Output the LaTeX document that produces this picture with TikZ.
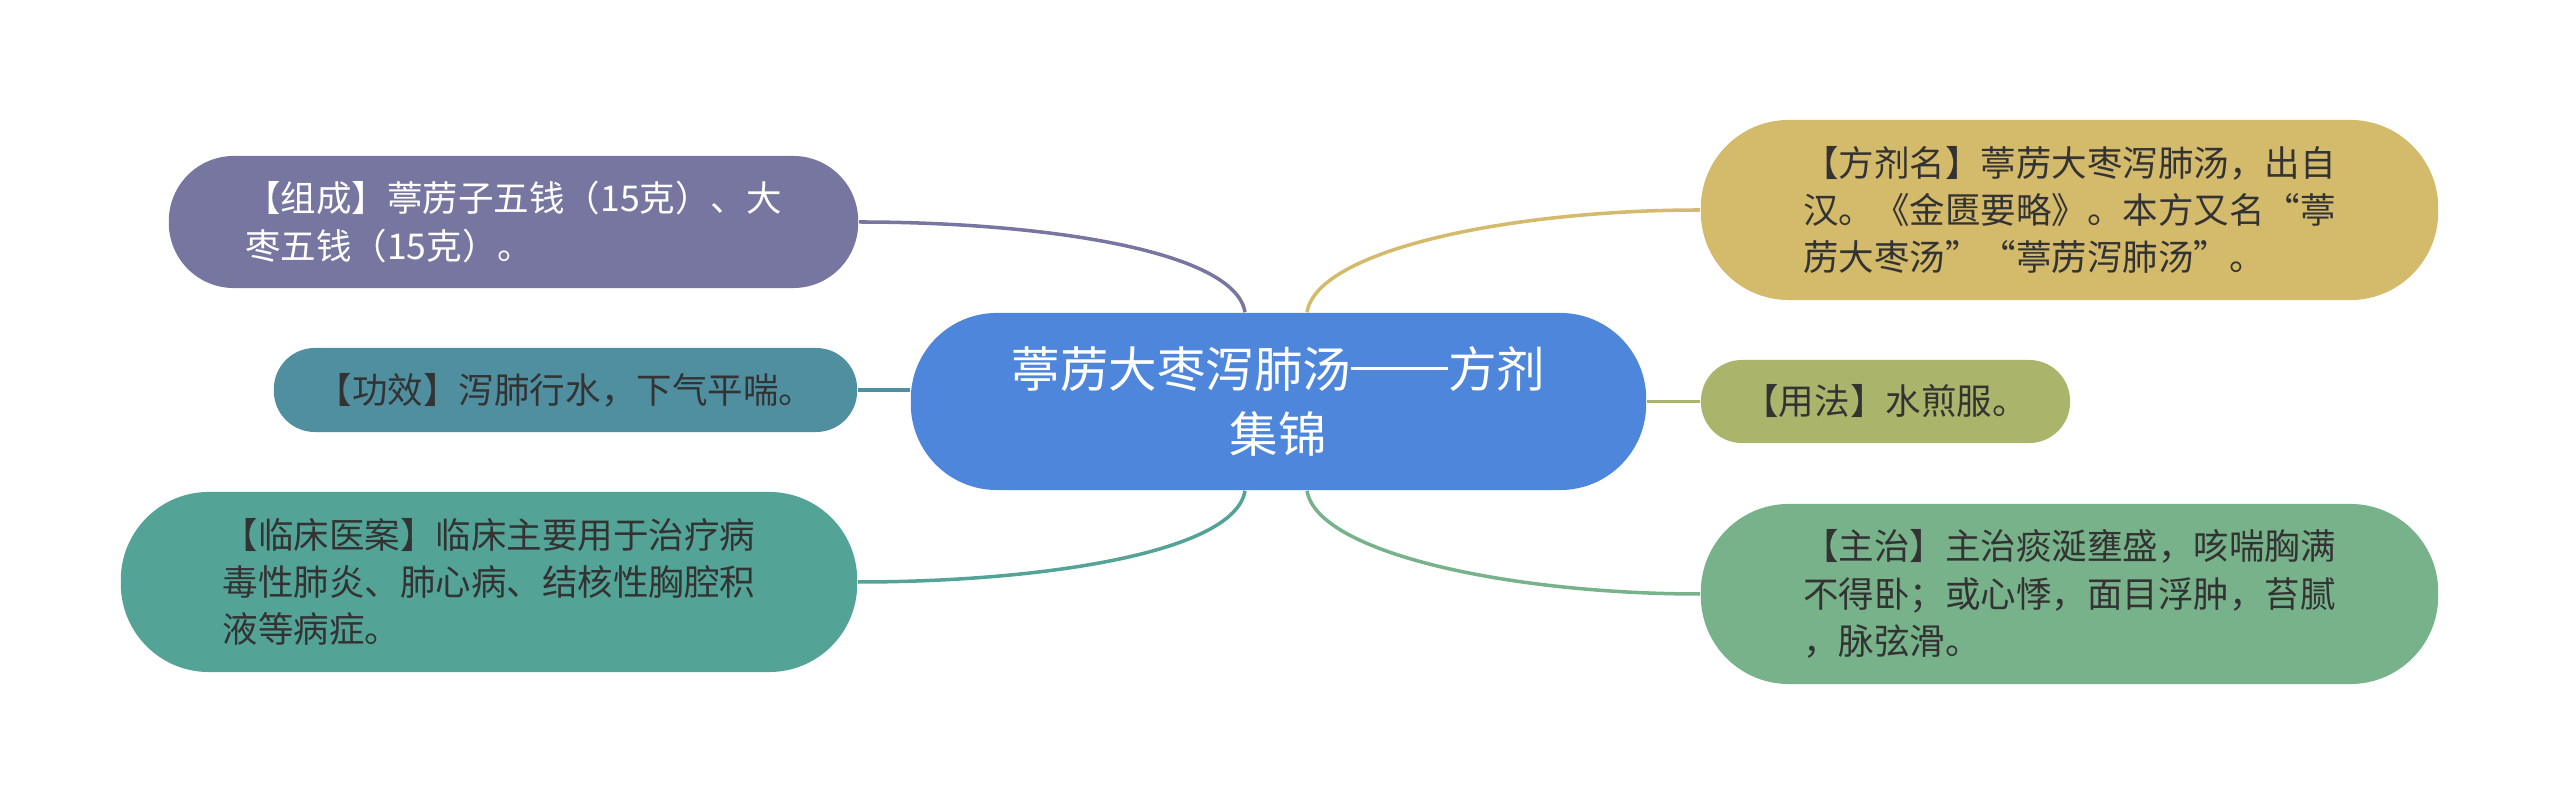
\documentclass[tikz,border=0pt]{standalone}
\usepackage{fontspec}
\setmainfont{Noto Sans CJK SC}

\begin{document}
\begin{tikzpicture}[x=0.01cm,y=-0.01cm]
    \definecolor{fj_hub}{RGB}{78,134,219}
    \definecolor{fj_zucheng}{RGB}{119,118,160}
    \definecolor{fj_gongxiao}{RGB}{79,143,160}
    \definecolor{fj_linchuang}{RGB}{83,163,151}
    \definecolor{fj_fangji}{RGB}{212,186,107}
    \definecolor{fj_yongfa}{RGB}{170,181,107}
    \definecolor{fj_zhuzhi}{RGB}{120,178,138}
    \definecolor{fj_ink}{RGB}{51,51,51}
    \tikzset{
      leaf/.style={shape=rectangle,inner sep=0pt,align=left,text=fj_ink,font=\fontsize{10.1pt}{13.4pt}\selectfont},
      twig/.style={line width=1pt},
    }
    \useasboundingbox (0,0) rectangle (2560,804);
    \node[shape=rectangle,inner sep=0pt,align=center,text=white,fill=fj_hub,minimum width=7.35cm,minimum height=1.77cm,rounded corners=0.86cm,font=\fontsize{13.8pt}{18.5pt}\selectfont] (hub) at (1278.5,401.5) {葶苈大枣泻肺汤\rule[0.36em]{2em}{0.055em}方剂\\集锦};
    \node[leaf,text=white,fill=fj_zucheng,minimum width=6.89cm,minimum height=1.32cm,rounded corners=0.65cm] (zucheng) at (513.5,222) {【组成】葶苈子五钱（15克）、大\\枣五钱（15克）。};
    \node[leaf,fill=fj_gongxiao,minimum width=5.83cm,minimum height=0.84cm,rounded corners=0.41cm] (gongxiao) at (565.5,390) {【功效】泻肺行水，下气平喘。};
    \node[leaf,fill=fj_linchuang,minimum width=7.36cm,minimum height=1.80cm,rounded corners=0.88cm] (linchuang) at (489,582) {【临床医案】临床主要用于治疗病\\毒性肺炎、肺心病、结核性胸腔积\\液等病症。};
    \node[leaf,fill=fj_fangji,minimum width=7.37cm,minimum height=1.80cm,rounded corners=0.88cm] (fangji) at (2069.5,210) {【方剂名】葶苈大枣泻肺汤，出自\\汉。《金匮要略》。本方又名“葶\\苈大枣汤”“葶苈泻肺汤”。};
    \node[leaf,fill=fj_yongfa,minimum width=3.69cm,minimum height=0.83cm,rounded corners=0.41cm] (yongfa) at (1885.5,401.5) {【用法】水煎服。};
    \node[leaf,fill=fj_zhuzhi,minimum width=7.37cm,minimum height=1.80cm,rounded corners=0.88cm] (zhuzhi) at (2069.5,594) {【主治】主治痰涎壅盛，咳喘胸满\\不得卧；或心悸，面目浮肿，苔腻\\，脉弦滑。};
    % branches
    \draw[twig,fj_zucheng] (zucheng.east) .. controls (1040,222) and (1235,250) .. ([xshift=-0.335cm]hub.north);
    \draw[twig,fj_gongxiao] (gongxiao.east) -- (gongxiao.east -| hub.west);
    \draw[twig,fj_linchuang] (linchuang.east) .. controls (1040,582) and (1235,553) .. ([xshift=-0.335cm]hub.south);
    \draw[twig,fj_fangji] (fangji.west) .. controls (1510,210) and (1317,250) .. ([xshift=0.285cm]hub.north);
    \draw[twig,fj_yongfa] (hub.east) -- (yongfa.west);
    \draw[twig,fj_zhuzhi] (zhuzhi.west) .. controls (1510,594) and (1317,553) .. ([xshift=0.285cm]hub.south);
\end{tikzpicture}
\end{document}
